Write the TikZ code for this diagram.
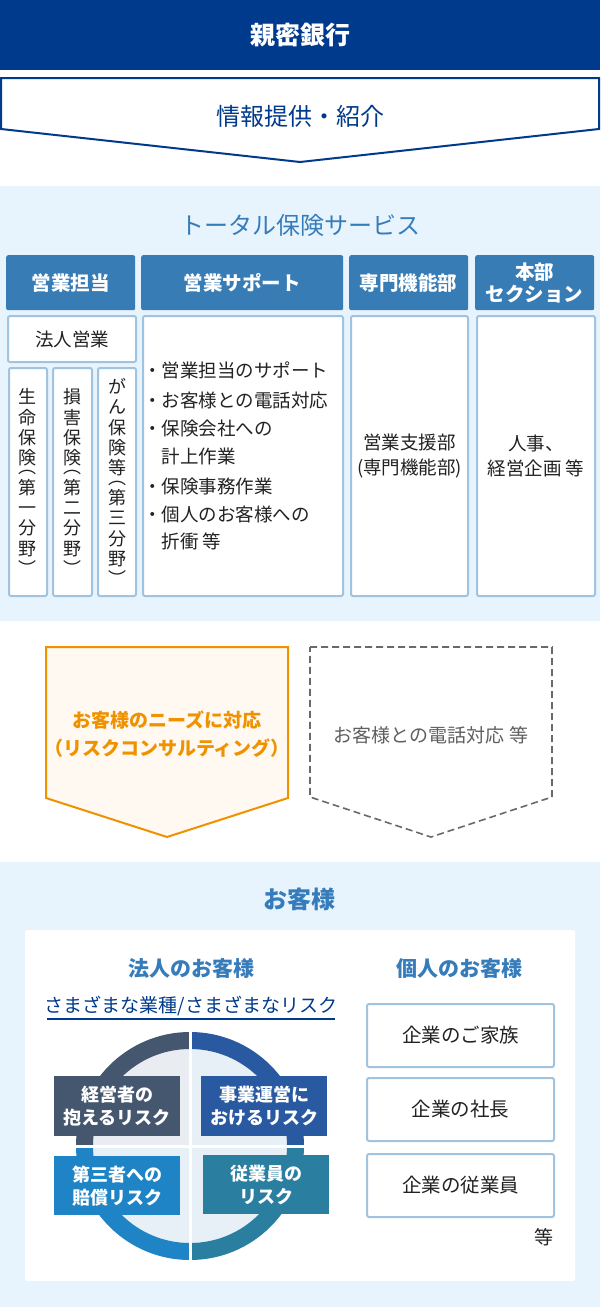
\documentclass[tikz,border=0pt]{standalone}
\usepackage{fontspec}
\setmainfont{Noto Sans CJK JP}
\definecolor{navy}{RGB}{0,58,140}
\definecolor{panel}{RGB}{232,244,253}
\definecolor{titleblue}{RGB}{54,124,186}
\definecolor{headblue}{RGB}{56,124,182}
\definecolor{boxline}{RGB}{160,196,224}
\definecolor{orng}{RGB}{240,145,0}
\definecolor{orngfill}{RGB}{255,249,242}
\definecolor{grayline}{RGB}{105,105,105}
\definecolor{graytext}{RGB}{95,95,95}
\definecolor{txt}{RGB}{34,34,34}
\definecolor{rTL}{RGB}{69,87,111}
\definecolor{rTR}{RGB}{41,89,160}
\definecolor{rBL}{RGB}{31,132,197}
\definecolor{rBR}{RGB}{42,127,161}
\definecolor{inTL}{RGB}{233,236,241}
\definecolor{inO}{RGB}{231,239,247}
\newcommand{\fsz}[2]{\fontsize{#1}{#2}\selectfont\lineskiplimit=-20pt}
\newcommand{\vopen}{\\[-11pt]︵\\}
\newcommand{\vclose}{\\︶}
\tikzset{
  hdr/.style={fill=headblue, rounded corners=2pt, text=white, font=\bfseries\fsz{19.5}{22}, align=center, inner sep=0pt, anchor=north west},
  cbox/.style={draw=boxline, line width=2pt, fill=white, rounded corners=2pt, text=txt, font=\fsz{18.5}{25}, align=center, inner sep=0pt, anchor=north west},
  vbox/.style={cbox, font=\fsz{18}{20.3}},
  body/.style={text=txt, font=\fsz{18.5}{24}, inner sep=0pt, anchor=west},
  risk/.style={text=white, font=\bfseries\fsz{18}{23}, align=center, inner sep=0pt, minimum width=126pt, minimum height=60pt, anchor=north west},
  pbox/.style={draw=boxline, line width=2pt, fill=white, rounded corners=2pt, text=txt, font=\fsz{19.5}{24}, inner sep=0pt, minimum width=187pt, minimum height=63pt, anchor=north west},
}
\begin{document}
\begin{tikzpicture}[x=1pt,y=-1pt]
\useasboundingbox (0,0) rectangle (600,1307);
\fill[white] (0,0) rectangle (600,1307);
% top bar
\fill[navy] (0,0) rectangle (600,70);
\node[text=white, font=\bfseries\fsz{25}{28}] (bank) at (300,35) {親密銀行};
% arrow
\draw[navy, line width=2pt, fill=white] (1,78) -- (599,78) -- (599,129) -- (300,162) -- (1,129) -- cycle;
\node[text=navy, font=\fsz{24}{28}] (info) at (300,116) {情報提供・紹介};
% panel 1
\fill[panel] (0,186) rectangle (600,621);
\node[text=titleblue, font=\fsz{24}{28}] (total) at (300,225) {トータル保険サービス};
\node[hdr, minimum width=129pt, minimum height=55pt] (h1) at (6,255) {営業担当};
\node[hdr, minimum width=202pt, minimum height=55pt] (h2) at (141,255) {営業サポート};
\node[hdr, minimum width=119pt, minimum height=55pt] (h3) at (349,255) {専門機能部};
\node[hdr, minimum width=119pt, minimum height=55pt] (h4) at (475,255) {本部\\セクション};
% content boxes
\node[cbox, minimum width=128pt, minimum height=46pt] (hojin) at (7,315) {法人営業};
\node[vbox, minimum width=38pt, minimum height=228pt] (v1) at (8,367) {生\\命\\保\\険\vopen 第\\一\\分\\野\vclose};
\node[vbox, minimum width=39pt, minimum height=228pt] (v2) at (52,367) {損\\害\\保\\険\vopen 第\\二\\分\\野\vclose};
\node[vbox, minimum width=38pt, minimum height=228pt] (v3) at (97,367) {が\\ん\\保\\険\\等\vopen 第\\三\\分\\野\vclose};
\node[cbox, minimum width=200pt, minimum height=280pt] (sup) at (142,315) {};
\node[cbox, minimum width=117pt, minimum height=280pt] (sen) at (350,315) {営業支援部\\(専門機能部)};
\node[cbox, minimum width=118pt, minimum height=280pt] (hon) at (476,315) {人事、\\経営企画 等};
% bullets
\node[body] (b1) at (143,370) {・営業担当のサポート};
\node[body] (b2) at (143,400) {・お客様との電話対応};
\node[body] (b3) at (143,429) {・保険会社への};
\node[body] (b3b) at (161.5,456) {計上作業};
\node[body] (b4) at (143,486) {・保険事務作業};
\node[body] (b5) at (143,514) {・個人のお客様への};
\node[body] (b5b) at (161.5,541) {折衝 等};
% pentagons
\draw[orng, line width=2pt, fill=orngfill] (46,647) -- (288,647) -- (288,798) -- (167,837) -- (46,798) -- cycle;
\node[text=orng, font=\bfseries\fsz{19}{28}, align=center] (needs) at (167,734) {お客様のニーズに対応\\（リスクコンサルティング）};
\draw[grayline, line width=1.6pt, dash pattern=on 7pt off 4pt] (310,647) -- (552,647) -- (552,797) -- (431,837) -- (310,797) -- cycle;
\node[text=graytext, font=\fsz{19}{24}] (tel) at (431,735) {お客様との電話対応 等};
% panel 2
\fill[panel] (0,862) rectangle (600,1307);
\node[text=titleblue, font=\bfseries\fsz{24}{28}] (cust) at (299,899) {お客様};
\fill[white, rounded corners=2pt] (25,930) rectangle (575,1281);
\node[text=titleblue, font=\bfseries\fsz{21}{24}] (corp) at (191,969) {法人のお客様};
\node[text=titleblue, font=\bfseries\fsz{21}{24}] (indiv) at (459,969) {個人のお客様};
\node[text=navy, font=\fsz{19}{24}] (var) at (191,1006) {さまざまな業種/さまざまなリスク};
\draw[navy, line width=1.3pt] (47,1019) -- (335,1019);
% risk wheel
\fill[inO] (190,1146) circle (97);
\fill[inTL] (190,1146) -- ++(180:97) arc (180:270:97) -- cycle;
\draw[rTL, line width=17pt] (190,1146) ++(180:105.5) arc (180:270:105.5);
\draw[rTR, line width=17pt] (190,1146) ++(270:105.5) arc (270:360:105.5);
\draw[rBR, line width=17pt] (190,1146) ++(0:105.5) arc (0:90:105.5);
\draw[rBL, line width=17pt] (190,1146) ++(90:105.5) arc (90:180:105.5);
\draw[white, line width=3pt] (190,1028) -- (190,1264);
\draw[white, line width=3pt] (72,1146) -- (308,1146);
\node[risk, fill=rTL] (r1) at (54,1076) {経営者の\\抱えるリスク};
\node[risk, fill=rTR] (r2) at (201,1076) {事業運営に\\おけるリスク};
\node[risk, fill=rBL, minimum height=59pt] (r3) at (54,1156) {第三者への\\賠償リスク};
\node[risk, fill=rBR, minimum height=59pt] (r4) at (203,1155) {従業員の\\リスク};
% individual boxes
\node[pbox] (p1) at (366,1003) {企業のご家族};
\node[pbox] (p2) at (366,1077) {企業の社長};
\node[pbox] (p3) at (366,1153) {企業の従業員};
\node[text=txt, font=\fsz{19}{24}] (etc) at (544,1237) {等};
\end{tikzpicture}
\end{document}
